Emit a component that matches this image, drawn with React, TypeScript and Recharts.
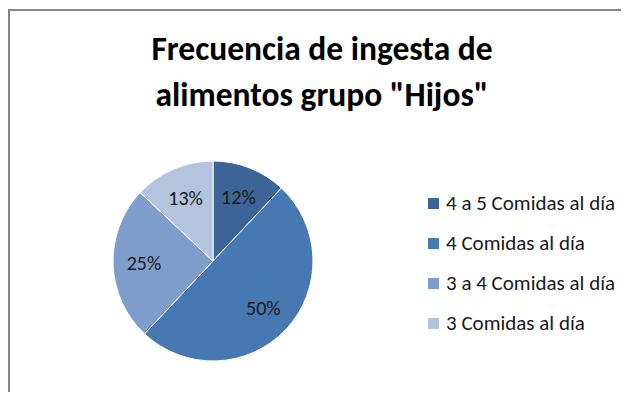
import React from "react"
import { Legend, Pie, PieChart, Cell } from "recharts"

const categories = ["4 a 5 Comidas al día", "4 Comidas al día", "3 a 4 Comidas al día", "3 Comidas al día"]
const values = [12, 50, 25, 13]
const titleLines = ["Frecuencia de ingesta de", "alimentos grupo \"Hijos\""]

const COLORS = ["#3d6496", "#4878b2", "#7f9dcb", "#b4c4df"]
const FONT = "Carlito, Lato, 'Open Sans', sans-serif"
const RADIAN = Math.PI / 180

const data = categories.map((name, i) => ({ name, value: values[i] }))

function renderLabel(props: any) {
  const { cx, cy, midAngle, outerRadius, percent } = props
  const r = outerRadius * 0.69
  const x = cx + r * Math.cos(-midAngle * RADIAN)
  const y = cy + r * Math.sin(-midAngle * RADIAN)
  return (
    <text x={x} y={y} fill="#1a1a1a" fontSize={20} fontFamily={FONT} textAnchor="middle" dominantBaseline="central">
      {`${Math.round(percent * 100)}%`}
    </text>
  )
}

function renderLegend(props: any) {
  // keep the series order, not the alphabetical one
  const payload = [...(props.payload || [])].sort(
    (a: any, b: any) => categories.indexOf(a.value) - categories.indexOf(b.value)
  )
  return (
    <div style={{ fontFamily: FONT, fontSize: 21, color: "#1a1a1a" }}>
      {payload.map((entry: any, index: number) => (
        <div key={`item-${index}`} style={{ display: "flex", alignItems: "center", height: 40 }}>
          <span style={{ width: 11, height: 11, background: entry.color, marginRight: 7, display: "inline-block" }} />
          <span>{entry.value}</span>
        </div>
      ))}
    </div>
  )
}

export default function App() {
  return (
    <div style={{ position: "relative", width: 621, height: 392, marginBottom: -8, background: "#fff" }}>
      {/* Chart frame: only left and top edges visible */}
      <div style={{ position: "absolute", left: 0, top: 1, right: 0, bottom: 0, borderLeft: "2px solid #878787", borderTop: "2px solid #878787" }} />

      <svg width={621} height={120} style={{ position: "absolute", left: 0, top: 0 }}>
        {titleLines.map((line, i) => (
          <text key={i} x={314} y={52 + i * 46} textAnchor="middle" fontFamily={FONT} fontWeight="bold" fontSize={33.5} fill="#000">
            {line}
          </text>
        ))}
      </svg>

      <PieChart
        width={621}
        height={392}
        margin={{ top: 0, right: 0, bottom: 0, left: 0 }}
        style={{ position: "absolute", left: 0, top: 0 }}
      >
        <Pie
          data={data}
          dataKey="value"
          nameKey="name"
          cx={205}
          cy={253}
          outerRadius={100}
          startAngle={90}
          endAngle={-270}
          stroke="#ffffff"
          strokeWidth={1}
          label={renderLabel}
          labelLine={false}
          isAnimationActive={false}
        >
          {data.map((entry, index) => (
            <Cell key={`cell-${index}`} fill={COLORS[index % COLORS.length]} />
          ))}
        </Pie>
        <Legend
          layout="vertical"
          content={renderLegend}
          wrapperStyle={{ left: 420, top: 175, width: 200 }}
        />
      </PieChart>
    </div>
  )
}
